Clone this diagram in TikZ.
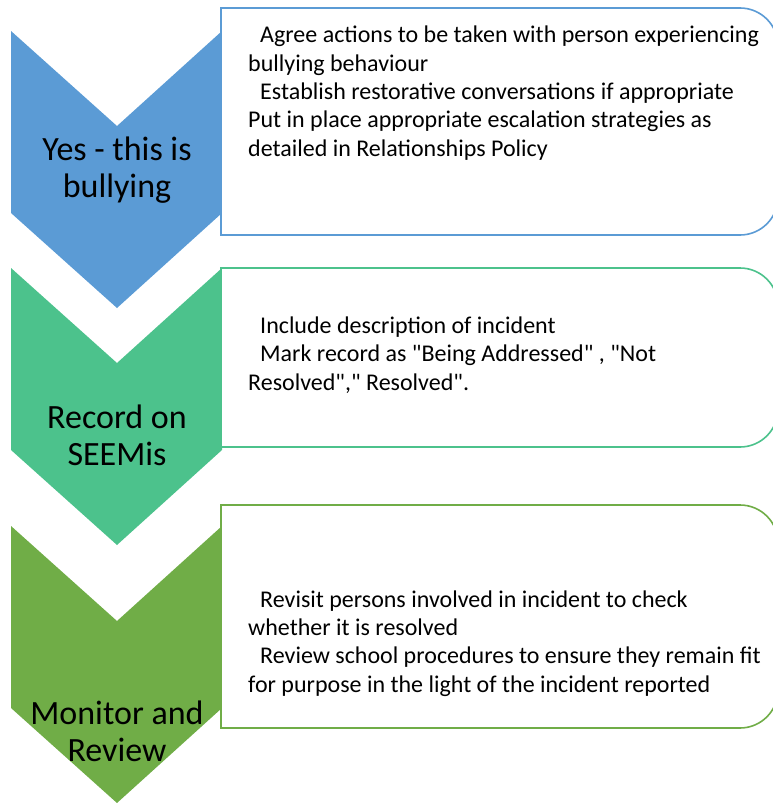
\documentclass[tikz,border=0pt]{standalone}
\usepackage{fontspec}
\setmainfont{Carlito}[Ligatures=TeXOff]
\usepackage{tikz}
\usetikzlibrary{positioning}

\definecolor{stepblue}{RGB}{91,155,213}
\definecolor{stepteal}{RGB}{76,194,140}
\definecolor{stepgreen}{RGB}{112,173,71}

\tikzset{
  chev/.style={fill=#1, draw=none},
  stepbox/.style={draw=#1, fill=white, line width=1.6pt},
  steptitle/.style={font=\fontsize{34}{37}\selectfont, align=center, anchor=base, inner sep=0pt},
  stepdetail/.style={font=\fontsize{24}{28.3}\selectfont, align=left, anchor=base west, inner sep=0pt}
}

\newcommand{\ind}{\hspace*{12pt}}

\begin{document}
\begin{tikzpicture}[x=1pt,y=1pt]

\useasboundingbox (0,0) rectangle (772,-803);

% step 1: yes - this is bullying
\begin{scope}
\fill[chev=stepblue] (11,-31) -- (117,-126) -- (222,-31) -- (222,-213) -- (117,-308) -- (11,-213) -- cycle;
\draw[stepbox=stepblue] (221,-8) -- (740,-8) arc[start angle=90, end angle=0, radius=38]
  -- (778,-197) arc[start angle=0, end angle=-90, radius=38] -- (221,-235) -- cycle;
\node[steptitle] (bullying) at (117,-197) {Yes - this is\\bullying};
\node[stepdetail] (actions) at (248,-156) {\ind Agree actions to be taken with person experiencing\\
  bullying behaviour\\
  \ind Establish restorative conversations if appropriate\\
  Put in place appropriate escalation strategies as\\
  detailed in Relationships Policy};
\end{scope}

% step 2: record on SEEMis
\begin{scope}
\fill[chev=stepteal] (11,-268) -- (117,-363) -- (222,-268) -- (222,-450) -- (117,-545) -- (11,-450) -- cycle;
\draw[stepbox=stepteal] (221,-268) -- (740,-268) arc[start angle=90, end angle=0, radius=38]
  -- (778,-409) arc[start angle=0, end angle=-90, radius=38] -- (221,-447) -- cycle;
\node[steptitle] (record) at (117,-465) {Record on\\SEEMis};
\node[stepdetail] (incident) at (248,-390) {\ind Include description of incident\\
  \ind Mark record as "Being Addressed" , "Not\\
  Resolved"," Resolved".};
\end{scope}

% step 3: monitor and review
\begin{scope}
\fill[chev=stepgreen] (11,-526) -- (117,-621) -- (222,-526) -- (222,-708) -- (117,-803) -- (11,-708) -- cycle;
\draw[stepbox=stepgreen] (221,-505) -- (740,-505) arc[start angle=90, end angle=0, radius=38]
  -- (778,-690) arc[start angle=0, end angle=-90, radius=38] -- (221,-728) -- cycle;
\node[steptitle] (monitor) at (117,-761) {Monitor and\\Review};
\node[stepdetail] (revisit) at (248,-692) {\ind Revisit persons involved in incident to check\\
  whether it is resolved\\
  \ind Review school procedures to ensure they remain fit\\
  for purpose in the light of the incident reported};
\end{scope}

\end{tikzpicture}
\end{document}
